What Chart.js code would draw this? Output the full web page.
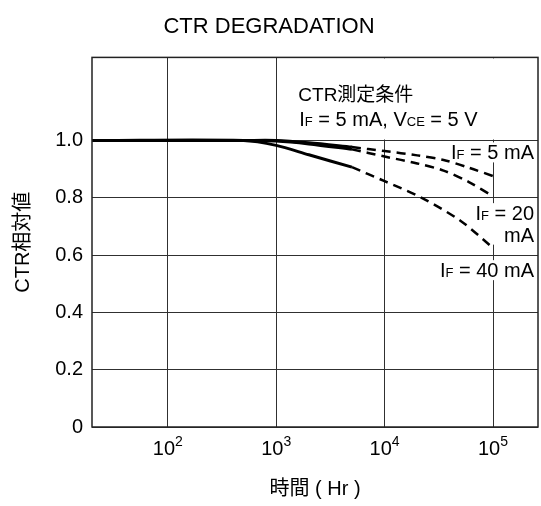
<!DOCTYPE html>
<html>
<head>
<meta charset="utf-8">
<script src="https://cdn.jsdelivr.net/npm/chart.js@4.4.1/dist/chart.umd.min.js"></script>
<style>
  html, body { margin: 0; padding: 0; background: #fff; }
</style>
</head>
<body>
<canvas id="ctrChart" width="541" height="506"></canvas>
<script>
const family = '"Liberation Sans", Arial, "Noto Sans CJK JP", sans-serif';

// solid part (measured)
const solidHours = [20, 500, 1000, 2000, 5000];
const solid5mA = [1.0, 1.0, 1.0, 0.992, 0.977];
const solid20mA = [1.0, 1.0, 0.998, 0.988, 0.969];
const solid40mA = [1.0, 1.0, 0.983, 0.95, 0.907];

// dashed part (extrapolated)
const dash5Hours = [5000, 10000, 20000, 35000, 60000, 110000];
const dash5mA = [0.977, 0.963, 0.948, 0.932, 0.905, 0.87];
const dash20Hours = [5000, 10000, 20000, 35000, 60000, 100000];
const dash20mA = [0.969, 0.944, 0.92, 0.895, 0.855, 0.805];
const dash40Hours = [5000, 10000, 22000, 50000, 100000];
const dash40mA = [0.907, 0.858, 0.8, 0.72, 0.625];

const xTickValues = [100, 1000, 10000, 100000];
const xTickExponents = ["2", "3", "4", "5"];
const yTickValues = [0, 0.2, 0.4, 0.6, 0.8, 1.0];
const yTickLabels = ["0", "0.2", "0.4", "0.6", "0.8", "1.0"];

function curve(xs, ys, dashed) {
  return {
    data: xs.map((x, i) => ({ x: x, y: ys[i] })),
    borderColor: "#000",
    borderWidth: dashed ? 2.5 : 3,
    borderDash: dashed ? [9, 6] : [],
    pointRadius: 0,
    tension: 0.3,
    fill: false,
  };
}

// text with small subscript-like letters, e.g. [["I", 20], ["F", 13], [" = 5 mA", 20]]
function partsWidth(ctx, parts) {
  let w = 0;
  parts.forEach(([t, s]) => {
    ctx.font = s + "px " + family;
    w += ctx.measureText(t).width;
  });
  return w;
}

function drawParts(ctx, x, y, parts) {
  parts.forEach(([t, s]) => {
    ctx.font = s + "px " + family;
    ctx.fillText(t, x, y);
    x += ctx.measureText(t).width;
  });
}

function labelRight(ctx, right, y, lines) {
  // white box behind the label, then the text lines
  let w = 0;
  lines.forEach((p) => { w = Math.max(w, partsWidth(ctx, p)); });
  ctx.fillStyle = "#fff";
  ctx.fillRect(right - w - 2, y - 17, w + 4, 20 + (lines.length - 1) * 21.5);
  ctx.fillStyle = "#000";
  lines.forEach((p, i) => {
    drawParts(ctx, right - partsWidth(ctx, p), y + i * 21.5, p);
  });
}

const notes = {
  id: "notes",
  beforeDatasetsDraw(chart) {
    const { ctx, chartArea: a, scales: { x, y } } = chart;
    ctx.save();
    ctx.textBaseline = "alphabetic";
    ctx.textAlign = "left";

    // condition box
    const boxLeft = x.getPixelForValue(1350);
    ctx.fillStyle = "#fff";
    ctx.fillRect(boxLeft, a.top + 1, a.right - boxLeft - 1, y.getPixelForValue(1.0) - a.top - 2);
    ctx.fillStyle = "#000";
    ctx.font = "19px " + family;
    ctx.fillText("CTR測定条件", boxLeft + 8, y.getPixelForValue(1.139));
    drawParts(ctx, boxLeft + 9, y.getPixelForValue(1.052), [
      ["I", 20], ["F", 13], [" = 5 mA, ", 20], ["V", 20], ["CE", 13], [" = 5 V", 20],
    ]);

    const right = a.right - 4;
    labelRight(ctx, right, y.getPixelForValue(0.934), [[["I", 20], ["F", 13], [" = 5 mA", 20]]]);
    labelRight(ctx, right, y.getPixelForValue(0.722), [
      [["I", 20], ["F", 13], [" = 20", 20]],
      [["mA", 20]],
    ]);
    labelRight(ctx, right, y.getPixelForValue(0.523), [[["I", 20], ["F", 13], [" = 40 mA", 20]]]);
    ctx.restore();
  },
  afterDatasetsDraw(chart) {
    const { ctx, chartArea: a, scales: { x } } = chart;
    ctx.save();
    ctx.strokeStyle = "#222";
    ctx.lineWidth = 1.5;
    ctx.strokeRect(a.left, a.top, a.right - a.left, a.bottom - a.top);

    // x tick labels 10^n
    ctx.fillStyle = "#000";
    ctx.textBaseline = "alphabetic";
    ctx.textAlign = "left";
    xTickValues.forEach((v, i) => {
      const cx = x.getPixelForValue(v);
      const parts = [["10", 20], [xTickExponents[i], 14]];
      const w = partsWidth(ctx, parts);
      let px = cx - w / 2;
      ctx.font = "20px " + family;
      ctx.fillText("10", px, a.bottom + 28);
      px += ctx.measureText("10").width;
      ctx.font = "14px " + family;
      ctx.fillText(xTickExponents[i], px, a.bottom + 19);
    });
    ctx.restore();
  },
};

new Chart(document.getElementById("ctrChart"), {
  type: "line",
  data: {
    datasets: [
      curve(solidHours, solid5mA, false),
      curve(solidHours, solid20mA, false),
      curve(solidHours, solid40mA, false),
      curve(dash5Hours, dash5mA, true),
      curve(dash20Hours, dash20mA, true),
      curve(dash40Hours, dash40mA, true),
    ],
  },
  options: {
    responsive: false,
    animation: false,
    layout: { padding: { left: 0, right: 3, top: 0, bottom: 0 } },
    plugins: {
      legend: { display: false },
      tooltip: { enabled: false },
      title: {
        display: true,
        text: "CTR DEGRADATION",
        color: "#000",
        font: { family: family, size: 22, weight: "normal" },
        padding: { top: 14, bottom: 17 },
      },
    },
    scales: {
      x: {
        type: "logarithmic",
        min: 20,
        max: 260000,
        afterBuildTicks: (s) => { s.ticks = xTickValues.map((v) => ({ value: v })); },
        afterFit: (s) => { s.height = 79; },
        ticks: { display: false },
        grid: { color: "#303030", lineWidth: 1, drawTicks: false },
        border: { display: false },
        title: {
          display: true,
          text: "時間 ( Hr )",
          color: "#000",
          font: { family: family, size: 20 },
          padding: { top: 0, bottom: 5 },
        },
      },
      y: {
        min: 0,
        max: 1.29,
        afterBuildTicks: (s) => { s.ticks = yTickValues.map((v) => ({ value: v })); },
        afterFit: (s) => { s.width = 92; },
        ticks: {
          color: "#000",
          padding: 9,
          font: { family: family, size: 20 },
          callback: (value, index) => yTickLabels[index],
        },
        grid: { color: "#303030", lineWidth: 1, drawTicks: false },
        border: { display: false },
        title: {
          display: true,
          text: "CTR相対値",
          color: "#000",
          font: { family: family, size: 20 },
          padding: { top: 11, bottom: 0 },
        },
      },
    },
  },
  plugins: [notes],
});
</script>
</body>
</html>
